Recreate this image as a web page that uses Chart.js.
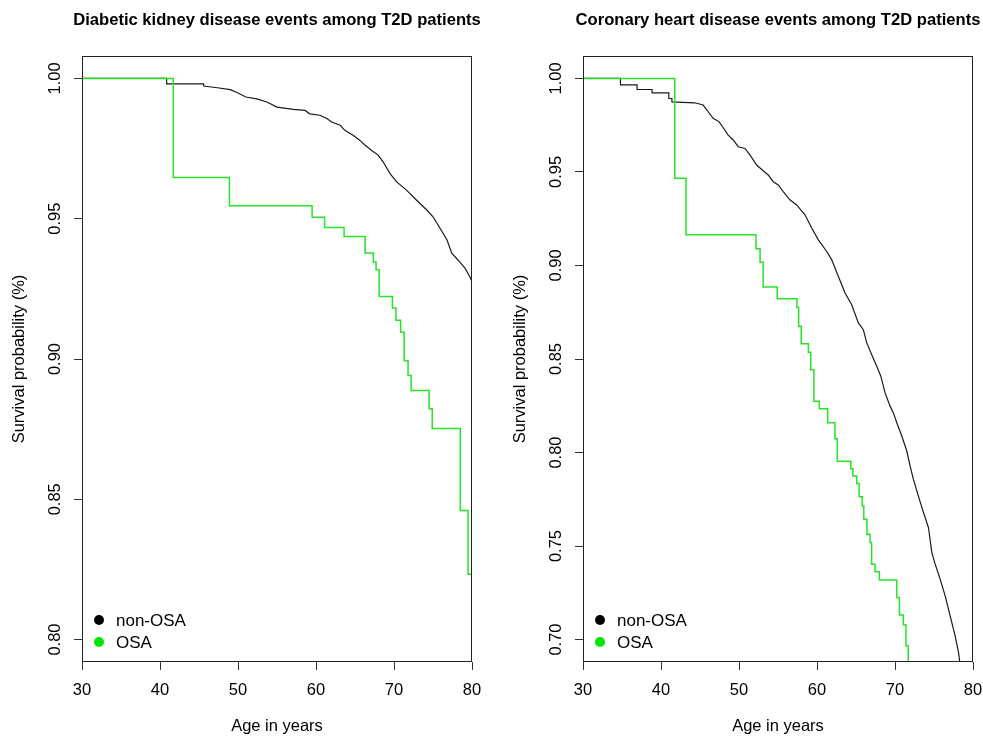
<!DOCTYPE html>
<html>
<head>
<meta charset="utf-8">
<script src="https://cdn.jsdelivr.net/npm/chart.js@4"></script>
<style>
  body { margin: 0; background: #fff; overflow: hidden; }
  canvas { position: absolute; top: 0; }
</style>
</head>
<body>
<canvas id="dkd" width="491" height="736" style="left:0"></canvas>
<canvas id="chd" width="492" height="736" style="left:491px"></canvas>
<script>
// Diabetic kidney disease: survival curves
const dkdNonAge = [30, 40.85, 40.85, 45.6, 45.6, 47.35, 49.0, 49.8, 51.0, 52.4, 53.7, 55.0, 57.1, 58.6, 59.2, 60.5, 61.4, 62.0, 63.1, 63.7, 64.8, 65.6, 66.3, 67.1, 68.0, 68.6, 69.5, 70.3, 71.6, 72.9, 74.2, 75.0, 75.9, 76.8, 77.4, 78.2, 79.1, 79.7, 80];
const dkdNonSurv = [1, 1, 0.9981, 0.9981, 0.9973, 0.9967, 0.996, 0.9951, 0.9934, 0.9927, 0.9916, 0.9898, 0.989, 0.9886, 0.9874, 0.9869, 0.9857, 0.9845, 0.9833, 0.9815, 0.9797, 0.978, 0.9762, 0.9744, 0.9726, 0.9703, 0.9661, 0.9632, 0.9602, 0.9566, 0.9531, 0.9507, 0.9466, 0.9424, 0.9377, 0.9353, 0.9324, 0.9294, 0.9276];
const dkdOsaAge = [30, 41.7, 48.9, 59.5, 61.1, 63.6, 66.3, 67.35, 67.7, 68.1, 69.8, 70.25, 70.85, 71.3, 71.8, 72.2, 74.5, 74.9, 78.5, 79.5, 80];
const dkdOsaSurv = [1, 0.9647, 0.9546, 0.9505, 0.9469, 0.9437, 0.9378, 0.9346, 0.9318, 0.9223, 0.9182, 0.9138, 0.9095, 0.8994, 0.8941, 0.8888, 0.8823, 0.8752, 0.846, 0.8233, 0.8233];
const dkdTicks = [0.80, 0.85, 0.90, 0.95, 1.00];

// Coronary heart disease
const chdNonAge = [30, 34.8, 34.8, 36.93, 36.93, 38.86, 38.86, 41.0, 41.0, 41.4, 41.4, 44.34, 45.4, 46.05, 46.69, 47.46, 47.97, 48.61, 49.26, 49.9, 50.76, 51.4, 52.26, 53.1, 53.75, 54.39, 55.03, 55.67, 56.53, 57.39, 58.46, 59.32, 60.17, 61.25, 61.89, 62.74, 63.6, 64.45, 65.3, 65.94, 66.38, 67.02, 67.66, 68.18, 68.73, 69.37, 69.8, 70.23, 70.87, 71.51, 71.94, 72.36, 73.0, 73.65, 74.29, 74.72, 75.15, 75.79, 76.43, 77.07, 77.71, 78.14, 78.4];
const chdNonSurv = [1, 1, 0.9966, 0.9966, 0.9941, 0.9941, 0.9923, 0.9923, 0.9893, 0.9893, 0.9875, 0.987, 0.9858, 0.9822, 0.9787, 0.9768, 0.9738, 0.9697, 0.9671, 0.9635, 0.9626, 0.9591, 0.9537, 0.9507, 0.9484, 0.9448, 0.9431, 0.9395, 0.9351, 0.9324, 0.9271, 0.92, 0.9137, 0.9075, 0.903, 0.8941, 0.8853, 0.879, 0.8693, 0.8657, 0.8586, 0.8523, 0.8461, 0.8408, 0.8319, 0.8248, 0.8212, 0.8159, 0.8088, 0.8008, 0.7927, 0.7856, 0.7767, 0.7679, 0.7599, 0.7465, 0.7403, 0.7323, 0.7234, 0.7127, 0.702, 0.6932, 0.685];
const chdOsaAge = [30, 41.77, 43.2, 52.17, 52.7, 53.1, 54.9, 57.43, 57.65, 57.98, 58.9, 59.2, 59.6, 60.3, 61.37, 62.3, 62.6, 64.33, 64.6, 65.1, 65.4, 65.8, 66.0, 66.4, 66.8, 67.0, 67.45, 68.0, 70.23, 70.57, 71.08, 71.4, 71.7];
const chdOsaSurv = [1, 0.9466, 0.9164, 0.9089, 0.9018, 0.8885, 0.8822, 0.8776, 0.8675, 0.8582, 0.8536, 0.8443, 0.8274, 0.8234, 0.8159, 0.8074, 0.7954, 0.7913, 0.7874, 0.7835, 0.7764, 0.7714, 0.7643, 0.7563, 0.7519, 0.7403, 0.7362, 0.7319, 0.7225, 0.7131, 0.7079, 0.6967, 0.685];
const chdTicks = [0.70, 0.75, 0.80, 0.85, 0.90, 0.95, 1.00];

const xTicksStep = 10;

Chart.defaults.font.family = "'Liberation Sans', Arial, sans-serif";
Chart.defaults.color = '#000';

const pts = (ages, surv) => ages.map((a, i) => ({ x: a, y: surv[i] }));

// R-style box round the plot region
const boxPlugin = {
  id: 'box',
  afterDatasetsDraw(chart) {
    const { ctx, chartArea: a } = chart;
    ctx.save();
    ctx.strokeStyle = '#222';
    ctx.lineWidth = 1;
    ctx.strokeRect(Math.round(a.left) + 0.5, Math.round(a.top) + 0.5,
      Math.round(a.right - a.left) - 1, Math.round(a.bottom - a.top) - 1);
    ctx.restore();
  }
};

// title is a bit wider than the plot; give it room so it isn't squeezed
const titleRoom = {
  id: 'titleRoom',
  afterLayout(chart) {
    const t = chart.titleBlock;
    if (t) { t.left -= 30; t.right += 30; }
  }
};

// legend inside the bottom-left corner
const insetLegend = {
  id: 'insetLegend',
  afterDraw(chart) {
    const { ctx, chartArea } = chart;
    ctx.save();
    ctx.font = "17px 'Liberation Sans', Arial, sans-serif";
    ctx.textBaseline = 'middle';
    chart.data.datasets.forEach((ds, i) => {
      const y = chartArea.bottom - 42 + i * 22;
      ctx.fillStyle = ds.pointBackgroundColor;
      ctx.beginPath();
      ctx.arc(chartArea.left + 17, y, 5, 0, Math.PI * 2);
      ctx.fill();
      ctx.fillStyle = '#000';
      ctx.fillText(ds.label, chartArea.left + 34, y + 1);
    });
    ctx.restore();
  }
};

function makeChart(id, title, nonPts, osaPts, yMin, yMax, yTicks, padLeft, padRight) {
  const tickFont = { size: 16.5 };
  return new Chart(document.getElementById(id), {
    type: 'line',
    data: {
      datasets: [
        // the large group: dense small steps, drawn as a traced line
        { label: 'non-OSA', data: nonPts, borderColor: '#1a1a1a', borderWidth: 1.2, pointBackgroundColor: '#000', stepped: false, order: 1 },
        { label: 'OSA', data: osaPts, borderColor: 'rgb(40,228,40)', borderWidth: 1.5, pointBackgroundColor: '#00e600', stepped: 'before', order: 0 }
      ]
    },
    options: {
      responsive: false,
      animation: false,
      layout: { padding: { left: padLeft, right: padRight, top: 0, bottom: 0 } },
      elements: {
        line: { tension: 0, fill: false },
        point: { radius: 0 }
      },
      plugins: {
        legend: { display: false },
        tooltip: { enabled: false },
        title: {
          display: true, text: title, fullSize: false,
          font: { size: 16.6, weight: 'bold' },
          padding: { top: 10.3, bottom: 25.8 }
        }
      },
      scales: {
        x: {
          type: 'linear', min: 30, max: 80,
          ticks: { stepSize: xTicksStep, padding: 11, font: tickFont, maxRotation: 0 },
          grid: { drawOnChartArea: false, drawTicks: true, tickLength: 8, color: '#333' },
          border: { display: false },
          title: { display: true, text: 'Age in years', font: tickFont, padding: 0 },
          afterFit: s => { s.height = 74; s.paddingLeft = 0; s.paddingRight = 0; }
        },
        y: {
          type: 'linear', min: yMin, max: yMax,
          afterBuildTicks: s => { s.ticks = yTicks.map(v => ({ value: v })); },
          ticks: {
            callback: v => v.toFixed(2), font: tickFont,
            minRotation: 90, maxRotation: 90, crossAlign: 'center', padding: 2.5
          },
          grid: { drawOnChartArea: false, drawTicks: true, tickLength: 8, color: '#333' },
          border: { display: false },
          title: { display: true, text: 'Survival probability (%)', font: tickFont, padding: { top: 10, bottom: 0 } },
          afterFit: s => { s.width = 82; s.paddingTop = 0; s.paddingBottom = 0; }
        }
      }
    },
    plugins: [boxPlugin, titleRoom, insetLegend]
  });
}

makeChart('dkd', 'Diabetic kidney disease events among T2D patients',
  pts(dkdNonAge, dkdNonSurv), pts(dkdOsaAge, dkdOsaSurv), 0.792, 1.008, dkdTicks, 0, 19);
makeChart('chd', 'Coronary heart disease events among T2D patients',
  pts(chdNonAge, chdNonSurv), pts(chdOsaAge, chdOsaSurv), 0.688, 1.012, chdTicks, 10, 10);
</script>
</body>
</html>
